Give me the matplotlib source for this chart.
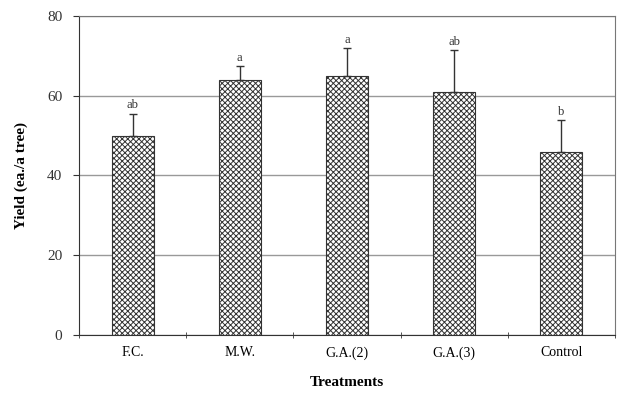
import matplotlib
matplotlib.use("Agg")
import matplotlib.pyplot as plt
import numpy as np

treatments = ["F.C.", "M.W.", "G.A.(2)", "G.A.(3)", "Control"]
yield_mean = [50, 64, 65, 61, 46]
yield_err = [5.5, 3.4, 7.0, 10.4, 7.8]
letters = ["ab", "a", "a", "ab", "b"]

plt.rcParams['font.family'] = ['Liberation Serif', 'DejaVu Serif']
plt.rcParams['hatch.linewidth'] = 0.7
plt.rcParams['hatch.color'] = '#333333'

fig = plt.figure(figsize=(6.2, 3.96), dpi=100)
ax = fig.add_axes([79 / 620, 1 - 335 / 396, 536 / 620, 319 / 396])

x = np.arange(len(treatments))
ax.bar(x, yield_mean, width=0.39, color='white', edgecolor='#333333',
       hatch='xxxxxx', linewidth=0.8, zorder=3)
ax.errorbar(x, yield_mean, yerr=[np.zeros(len(x)), yield_err], fmt='none',
            ecolor='#333333', elinewidth=1, capsize=3, capthick=1, zorder=4)

for xi, m, e, lab in zip(x, yield_mean, yield_err, letters):
    ax.text(xi, m + e + 0.6, lab, ha='center', va='bottom', fontsize=9,
            color='#333333')

ax.set_xlim(-0.5, len(treatments) - 0.5)
ax.set_ylim(0, 80)
ax.set_yticks([0, 20, 40, 60, 80])
ax.set_xticks(x)
ax.set_xticklabels(treatments, fontsize=10)
ax.set_xticks(np.arange(-0.5, len(treatments)), minor=True)
ax.tick_params(axis='x', which='major', length=0, pad=8)
ax.tick_params(axis='x', which='minor', length=4, direction='inout', color='#333333')
ax.tick_params(axis='y', length=4, direction='out', labelsize=11, color='#333333',
               labelcolor='#333333', pad=8)
ax.yaxis.grid(True, color='#999999', linewidth=1)
ax.set_axisbelow(True)

for s in ['top', 'right']:
    ax.spines[s].set_color('#777777')
for s in ['left', 'bottom']:
    ax.spines[s].set_color('#333333')

ax.set_ylabel("Yield (ea./a tree)", fontsize=11, fontweight='bold', labelpad=14)
ax.set_xlabel("Treatments", fontsize=11, fontweight='bold', labelpad=12)

fig.savefig("out.png", dpi=100)
